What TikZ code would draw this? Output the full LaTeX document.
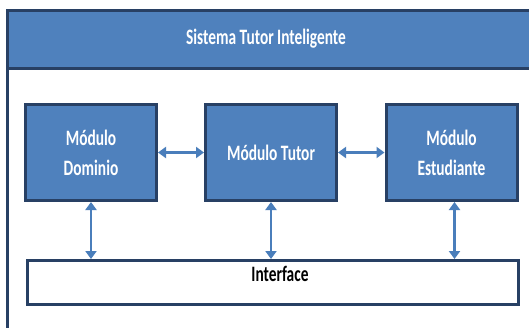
\documentclass[tikz,border=0pt]{standalone}
\usepackage{fontspec}
\setmainfont{Carlito}
\newfontfamily\narrow[FakeStretch=0.7]{Carlito}
\usetikzlibrary{arrows.meta}
\definecolor{modfill}{RGB}{79,129,189}
\definecolor{modline}{RGB}{40,64,100}
\definecolor{arrowblue}{RGB}{74,126,187}
\tikzset{
  module/.style={draw=modline,line width=3pt,fill=modfill,minimum width=131pt,minimum height=96pt,
    text=white,align=center,font=\narrow\bfseries\fontsize{22}{30}\selectfont},
  link/.style={arrowblue,line width=2.4pt,{Triangle[width=11pt,length=8pt]}-{Triangle[width=11pt,length=8pt]}}
}
\begin{document}
\begin{tikzpicture}[x=1pt,y=-1pt]
    \useasboundingbox (0,0) rectangle (529,327);
    % outer frame and title bar
    \draw [modline,line width=3pt,fill=white](7,10) rectangle (545,345);
    \draw [modline,line width=3pt,fill=modfill](7,10) rectangle (545,68);
    \node (title) [text=white,font=\narrow\bfseries\fontsize{22}{24}\selectfont] at (266,39) {Sistema Tutor Inteligente};
    % modules
    \node (dom) [module] at (91,152.5) {Módulo\\Dominio};
    \node (tut) [module] at (271,152.5) {Módulo Tutor};
    \node (est) [module] at (451.5,152.5) {Módulo\\Estudiante};
    \node (iface) [draw=modline,line width=3pt,fill=white,minimum width=491pt,minimum height=44pt] at (273,282.5) {};
    \node (ifacetext) [font=\narrow\bfseries\fontsize{22}{24}\selectfont] at (280,274) {Interface};
    % links
    \draw [link](dom.east) -- (tut.west);
    \draw [link](tut.east) -- (est.west);
    \draw [link](dom.south) -- (dom.south |- iface.north);
    \draw [link](tut.south) -- (tut.south |- iface.north);
    \draw [link]([xshift=3pt]est.south) -- ([xshift=3pt]est.south |- iface.north);
\end{tikzpicture}
\end{document}
